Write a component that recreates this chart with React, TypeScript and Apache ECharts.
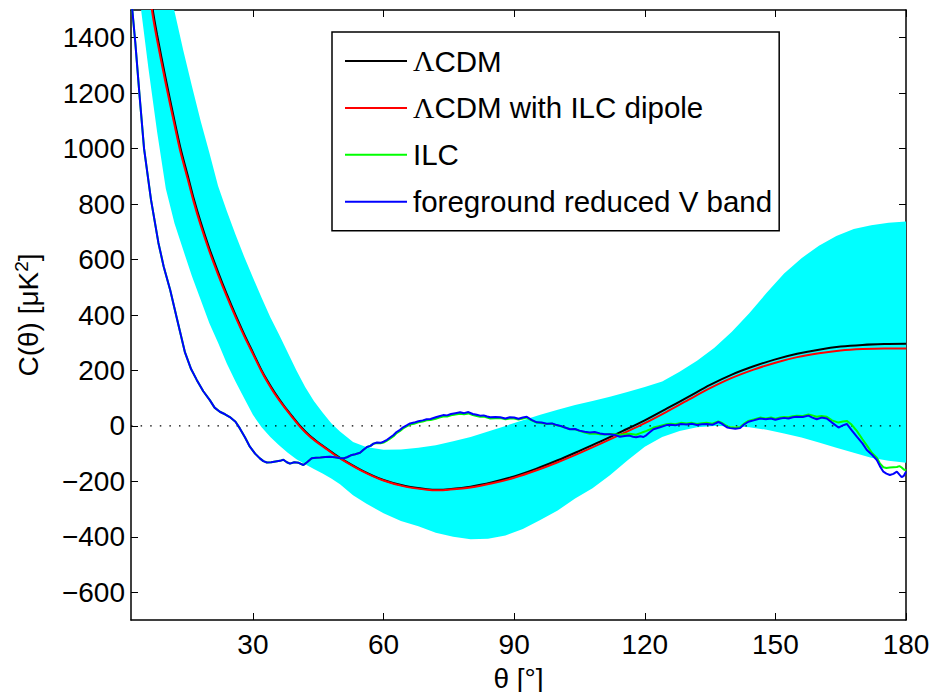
import React, { useEffect, useRef } from "react";
import * as echarts from "echarts";

// ---------- data ----------
const xTicks = [30, 60, 90, 120, 150, 180];
const yTicks = [-600, -400, -200, 0, 200, 400, 600, 800, 1000, 1200, 1400];

const thetaModel = [
  2, 4, 6, 7, 8, 10, 12, 13.4, 15, 16.4,
  18, 20, 22, 24, 26, 28, 30, 32, 33.2, 35,
  37, 39, 41, 43, 45, 47.5, 50, 55, 60, 65,
  70, 72.5, 75, 80, 85, 90, 95, 100, 105, 110,
  115, 120, 125, 130, 135, 140, 145, 150, 155, 160,
  165, 170, 175, 180,
];
const lcdm = [
  2300, 1900, 1620, 1500, 1410, 1250, 1100, 1000, 905, 820,
  735, 640, 555, 475, 400, 330, 265, 200, 166, 120,
  75, 35, -3, -35, -60, -88, -115, -160, -195, -217,
  -228, -230, -228, -219, -203, -182, -155, -124, -90, -55,
  -18, 20, 62, 105, 148, 185, 215, 240, 260, 275,
  286, 292, 295, 296,
];
const lcdmDipole = [
  2270, 1875, 1598, 1480, 1392, 1233, 1085, 986, 892, 808,
  724, 630, 546, 467, 393, 324, 260, 196, 162, 116,
  72, 32, -6, -37, -62, -90, -117, -162, -197, -219,
  -230, -232, -230, -222, -207, -187, -161, -131, -98, -63,
  -27, 10, 51, 94, 136, 173, 203, 228, 248, 262,
  272, 277, 279, 279,
];

const thetaMap = [
  2, 2.3, 3, 4, 5, 6.6, 8.3, 9.5, 11, 12.5,
  14.4, 15.8, 17.1, 18.6, 20.1, 21.2, 22.4, 23.6, 24.7, 26,
  27, 28.2, 29.3, 30.5, 31.6, 32.4, 33.2, 34.2, 35.2, 36.2,
  37, 37.8, 38.5, 39.5, 40.5, 41.6, 42.5, 43.5, 44.5, 45.5,
  46.6, 47.7, 48.8, 49.8, 50.8, 51.6, 52.5, 53.5, 54.6, 55.4,
  56.2, 57, 57.7, 58.5, 59.3, 60, 60.8, 61.5, 62.3, 63,
  63.8, 64.5, 65.3, 66.1, 67, 68, 69, 69.9, 70.8, 72,
  72.8, 73.7, 74.6, 75.5, 76.5, 77.6, 78.5, 79.5, 80.5, 81.4,
  82.2, 83, 83.8, 84.5, 85.7, 86.8, 88, 89, 90, 91,
  92, 92.9, 94, 95.2, 96.3, 97.5, 98.7, 99.8, 100.7, 101.5,
  102.8, 104, 105, 106.2, 107.4, 108.5, 109.7, 110.8, 112, 113.2,
  114.3, 115.4, 116.5, 117.3, 118, 119, 119.7, 120.4, 121, 122,
  123.5, 125, 126, 127, 128.3, 129.6, 130.8, 132, 133.1, 134.2,
  135.5, 136.9, 137.6, 138.3, 139, 139.6, 140.8, 141.9, 142.8, 143.8,
  145, 146.5, 147.8, 149, 150, 151.1, 152, 153, 154, 154.9,
  156.3, 157.6, 158.5, 159.5, 160.6, 161.8, 163, 164.5, 165.5, 166.4,
  167.5, 168.7, 170, 171, 172.2, 173.3, 174, 174.8, 175.5, 176.3,
  177.1, 177.9, 178.5, 179, 179.5, 180,
];
const vBand = [
  1600, 1500, 1380, 1185, 1000, 815, 660, 575, 490, 390,
  265, 205, 166, 125, 93, 66, 51, 42, 32, 15,
  -9, -42, -75, -100, -117, -127, -132, -131, -128, -126,
  -122, -131, -136, -131, -133, -141, -130, -117, -115, -114,
  -112, -111, -113, -116, -117, -113, -106, -102, -97, -86,
  -76, -72, -64, -60, -61, -57, -50, -42, -33, -22,
  -14, -5, 2, 9, 12, 17, 20, 24, 25, 31,
  35, 39, 38, 43, 46, 49, 46, 50, 43, 40,
  37, 38, 34, 31, 32, 31, 27, 31, 30, 26,
  30, 33, 22, 13, 12, 8, 9, 3, 0, -5,
  -12, -11, -17, -21, -24, -22, -27, -30, -30, -33,
  -39, -36, -35, -39, -41, -37, -40, -33, -25, -12,
  -5, 3, 4, 2, 7, 5, 8, 3, 6, 7,
  4, 14, 9, 1, -6, -8, -10, -8, 5, 15,
  20, 27, 24, 27, 22, 27, 29, 27, 31, 33,
  32, 37, 30, 24, 30, 27, 12, -6, 2, 7,
  -15, -39, -63, -87, -104, -123, -145, -165, -172, -177,
  -173, -165, -176, -185, -180, -165,
];
const ilc = [
  1600, 1500, 1380, 1185, 1000, 815, 660, 575, 490, 390,
  265, 205, 166, 125, 93, 66, 51, 42, 32, 15,
  -9, -42, -75, -100, -117, -127, -132, -131, -128, -126,
  -122, -131, -136, -131, -133, -141, -130, -117, -115, -114,
  -112, -111, -113, -116, -117, -113, -106, -102, -97, -86,
  -76, -72, -64, -62, -63, -60, -53, -46, -37, -26,
  -18, -9, -2, 5, 8, 13, 16, 20, 21, 26,
  30, 34, 34, 38, 41, 44, 42, 45, 39, 36,
  33, 34, 30, 27, 28, 28, 24, 27, 27, 23,
  27, 30, 20, 12, 10, 7, 8, 2, -1, -5,
  -11, -12, -18, -24, -28, -27, -30, -31, -29, -30,
  -33, -30, -28, -30, -32, -26, -22, -18, -14, -6,
  0, 6, 8, 6, 11, 9, 11, 7, 10, 11,
  8, 16, 12, 5, -2, -4, -6, -4, 8, 18,
  23, 30, 27, 30, 26, 30, 32, 31, 35, 37,
  36, 41, 38, 33, 36, 33, 20, 12, 16, 18,
  5, -18, -48, -70, -98, -115, -135, -149, -152, -150,
  -149, -148, -145, -150, -157, -160,
];

const bandTheta = [
  2, 4, 6, 8, 10, 12, 14, 16, 18, 20,
  22, 24, 26, 28, 30, 32, 34, 36, 38, 40,
  42, 44, 46, 48, 50, 53, 56, 60, 64, 68,
  72, 76, 80, 84, 88, 92, 96, 100, 104, 108,
  112, 116, 120, 124, 128, 132, 136, 140, 144, 148,
  152, 156, 160, 164, 168, 172, 176, 180,
];
const bandLower = [
  1850, 1540, 1290, 1060, 855, 730, 634, 540, 455, 370,
  300, 225, 160, 100, 40, -5, -40, -70, -97, -120,
  -138, -155, -172, -190, -210, -250, -280, -315, -343, -362,
  -385, -400, -409, -407, -395, -372, -339, -305, -262, -225,
  -178, -125, -75, -40, -18, -5, 0, -1, -5, -14,
  -27, -42, -60, -79, -97, -115, -126, -133,
];
const bandUpper = [
  2600, 2280, 2020, 1800, 1630, 1495, 1355, 1225, 1100, 985,
  865, 775, 690, 610, 535, 462, 392, 330, 265, 200,
  140, 90, 48, 10, -20, -58, -76, -86, -85, -79,
  -70, -55, -40, -20, 0, 20, 40, 58, 75, 90,
  105, 122, 140, 160, 195, 235, 282, 340, 406, 480,
  550, 605, 650, 685, 710, 724, 733, 737,
];

const seriesNames = ["ΛCDM", "ΛCDM with ILC dipole", "ILC", "foreground reduced V band"];
const seriesColors = ["#000000", "#ff0000", "#00ff00", "#0000ff"];

// ---------- helpers ----------
const FONT = "'Liberation Sans', Arial, Helvetica, sans-serif";
const zip = (xs: number[], ys: number[]) => xs.map((x, i) => [x, ys[i]]);
const fmtY = (v: number) => (v < 0 ? "\u2212" + Math.abs(v) : String(v));

function lineSeries(name: string, color: string, xs: number[], ys: number[], width: number, smooth: number) {
  return {
    name,
    type: "line",
    data: zip(xs, ys),
    symbol: "none",
    showSymbol: false,
    smooth,
    color,
    lineStyle: { color, width },
    silent: true,
    clip: true,
  };
}

export default function App() {
  const ref = useRef<HTMLDivElement>(null);
  useEffect(() => {
    const chart = echarts.init(ref.current!, null, { renderer: "svg" });
    const axisLine = { show: true, onZero: false, lineStyle: { color: "#000", width: 1.5 } };
    const tick = (vals: number[]) => ({
      show: true,
      inside: true,
      length: 7,
      customValues: vals,
      lineStyle: { color: "#000", width: 1 },
    });
    const option: any = {
      animation: false,
      backgroundColor: "#fff",
      textStyle: { fontFamily: FONT },
      grid: { left: 131, right: 30, top: 10, bottom: 72, containLabel: false, outerBoundsMode: "none" },
      xAxis: [
        {
          type: "value",
          min: 2,
          max: 180,
          position: "bottom",
          axisLine,
          axisTick: tick(xTicks),
          axisLabel: { show: true, customValues: xTicks, fontSize: 28, color: "#000", fontFamily: FONT, margin: 10 },
          splitLine: { show: false },
          name: "θ [°]",
          nameLocation: "middle",
          nameGap: 45,
          nameTextStyle: { fontSize: 28, lineHeight: 26, color: "#000", fontFamily: FONT },
        },
        {
          type: "value",
          min: 2,
          max: 180,
          position: "top",
          axisLine,
          axisTick: tick(xTicks),
          axisLabel: { show: false },
          splitLine: { show: false },
        },
      ],
      yAxis: [
        {
          type: "value",
          min: -700,
          max: 1500,
          position: "left",
          axisLine,
          axisTick: tick(yTicks),
          axisLabel: { show: true, customValues: yTicks, fontSize: 28, color: "#000", fontFamily: FONT, margin: 6, formatter: fmtY },
          splitLine: { show: false },
          name: "C(θ) [μK{sup|2}]",
          nameLocation: "middle",
          nameRotate: 90,
          nameGap: 86,
          nameTextStyle: {
            fontSize: 28,
            color: "#000",
            fontFamily: FONT,
            rich: { sup: { fontSize: 19, fontFamily: FONT, color: "#000", padding: [0, 0, 14, 0] } },
          },
        },
        {
          type: "value",
          min: -700,
          max: 1500,
          position: "right",
          axisLine,
          axisTick: tick(yTicks),
          axisLabel: { show: false },
          splitLine: { show: false },
        },
      ],
      legend: {
        data: seriesNames.map((n) => ({ name: n, icon: "rect" })),
        orient: "vertical",
        left: 332,
        top: 32,
        padding: [14, 7, 14, 13],
        itemWidth: 62,
        itemHeight: 2,
        itemGap: 16.9,
        borderColor: "#000",
        borderWidth: 1.5,
        backgroundColor: "#fff",
        selectedMode: false,
        formatter: (name: string) => name.replace("Λ", "{s|Λ}"),
        textStyle: {
          fontSize: 29.5,
          lineHeight: 28,
          color: "#000",
          fontFamily: FONT,
          padding: [0, 0, 0, 1],
          rich: { s: { fontSize: 29.5, lineHeight: 28, fontFamily: "'Liberation Serif', 'DejaVu Serif', serif", color: "#000" } },
        },
      },
      series: [
        {
          name: "band",
          type: "custom",
          coordinateSystem: "cartesian2d",
          data: [[90, 0]],
          silent: true,
          z: 1,
          renderItem: (params: any, api: any) => {
            const pts: number[][] = [];
            for (let i = 0; i < bandTheta.length; i++) pts.push(api.coord([bandTheta[i], bandUpper[i]]));
            for (let i = bandTheta.length - 1; i >= 0; i--) pts.push(api.coord([bandTheta[i], bandLower[i]]));
            const cs = params.coordSys;
            return {
              type: "polygon",
              shape: { points: pts },
              style: { fill: "#00ffff", stroke: "none" },
              clipPath: { type: "rect", shape: { x: cs.x, y: cs.y, width: cs.width, height: cs.height } },
            };
          },
        },
        {
          name: "zero",
          type: "line",
          data: [
            [2, 0],
            [180, 0],
          ],
          symbol: "none",
          silent: true,
          z: 2,
          lineStyle: { color: "#000", width: 1.4, type: [1.5, 8.1] },
        },
        lineSeries(seriesNames[0], seriesColors[0], thetaModel, lcdm, 2, 0.3),
        lineSeries(seriesNames[1], seriesColors[1], thetaModel, lcdmDipole, 2, 0.3),
        lineSeries(seriesNames[2], seriesColors[2], thetaMap, ilc, 2, 0),
        lineSeries(seriesNames[3], seriesColors[3], thetaMap, vBand, 2, 0),
      ],
    };
    chart.setOption(option);
    return () => chart.dispose();
  }, []);
  return (
    <div
      ref={ref}
      style={{ position: "fixed", left: 0, top: 0, width: 936, height: 692, background: "#fff" }}
    />
  );
}
